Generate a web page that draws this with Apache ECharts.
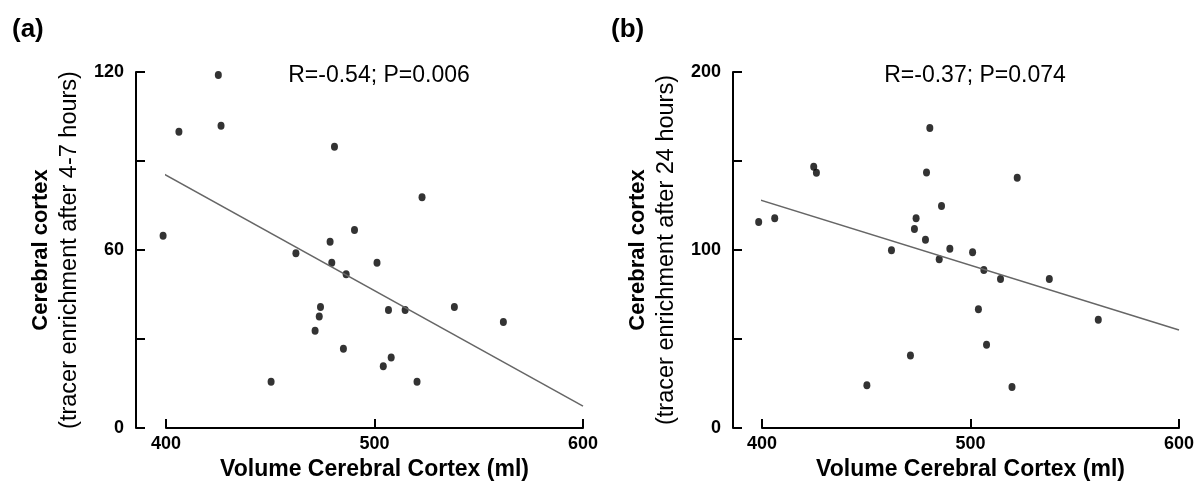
<!DOCTYPE html>
<html>
<head>
<meta charset="utf-8">
<script src="https://cdn.jsdelivr.net/npm/echarts@6/dist/echarts.min.js"></script>
<style>
  html, body { margin: 0; padding: 0; background: #fff; }
  #main { width: 1202px; height: 482px; }
</style>
</head>
<body>
<div id="main"></div>
<script>
// panel (a): 4-7 hours
const volA = [425.1, 406.2, 426.4, 480.8, 398.6, 490.4, 478.7, 462.3, 479.5, 501.2, 486.4, 506.7,
              514.7, 538.3, 561.8, 485.1, 508.0, 504.2, 520.4, 450.4, 474.1, 473.5, 471.5, 522.8];
const enrA = [119.0, 99.9, 101.9, 94.8, 64.8, 66.7, 62.8, 58.9, 55.7, 55.7, 51.8, 39.8,
              39.8, 40.8, 35.7, 26.7, 23.8, 20.8, 15.6, 15.6, 40.8, 37.6, 32.8, 77.8];
const fitA = [[397, 86.4], [600, 7.4]];

// panel (b): 24 hours
const volB = [480.5, 424.8, 426.1, 478.9, 522.4, 486.1, 398.4, 406.1, 473.9, 473.1, 478.4, 462.1,
              490.1, 501.0, 485.0, 506.4, 514.4, 537.8, 503.8, 561.3, 507.7, 471.2, 450.3, 519.9];
const enrB = [168.5, 146.8, 143.4, 143.6, 140.6, 124.7, 115.7, 117.8, 117.8, 111.8, 105.8, 99.8,
              100.7, 98.7, 94.8, 88.8, 83.7, 83.7, 66.7, 60.8, 46.8, 40.8, 24.0, 23.0];
const fitB = [[397.5, 128.7], [600, 55.1]];

const xTicks = [400, 500, 600];
const yMaxA = 120, yMaxB = 200;
const statA = 'R=-0.54; P=0.006';
const statB = 'R=-0.37; P=0.074';
const xName = 'Volume Cerebral Cortex (ml)';
const yTitle = 'Cerebral cortex';
const ySubA = '(tracer enrichment after 4-7 hours)';
const ySubB = '(tracer enrichment after 24 hours)';

const FONT = "'Liberation Sans', Arial, sans-serif";

function pairs(xs, ys) {
  return xs.map((x, i) => [x, ys[i]]);
}

function xAxisCfg(gi) {
  return {
    gridIndex: gi, type: 'value', min: 400, max: 600, interval: 100,
    name: xName, nameLocation: 'middle', nameGap: 22,
    nameTextStyle: { fontFamily: FONT, fontSize: 23, fontWeight: 'bold', color: '#000' },
    axisLine: { lineStyle: { color: '#000', width: 2 } },
    axisTick: { inside: true, length: 9, lineStyle: { color: '#000', width: 2 } },
    axisLabel: { fontFamily: FONT, fontSize: 18, fontWeight: 'bold', color: '#000', margin: 7,
                 formatter: v => xTicks.includes(v) ? v : '' },
    splitLine: { show: false }
  };
}

function yAxisCfg(gi, max, sub, off) {
  return {
    gridIndex: gi, type: 'value', min: 0, max: max, interval: max / 4, offset: off,
    name: '{t|' + yTitle + '}\n{s|' + sub + '}',
    nameLocation: 'middle', nameRotate: 90, nameGap: 52,
    nameTextStyle: {
      rich: {
        t: { fontFamily: FONT, fontSize: 22, fontWeight: 'bold', color: '#000', lineHeight: 29 },
        s: { fontFamily: FONT, fontSize: 23.5, color: '#000', lineHeight: 29 }
      }
    },
    axisLine: { show: true, lineStyle: { color: '#000', width: 2 } },
    axisTick: { show: true, inside: true, length: 9, lineStyle: { color: '#000', width: 2 } },
    axisLabel: { fontFamily: FONT, fontSize: 18, fontWeight: 'bold', color: '#000', margin: 12,
                 formatter: v => (v % (max / 2) === 0 ? v : '') },
    splitLine: { show: false }
  };
}

const chart = echarts.init(document.getElementById('main'));
chart.setOption({
  animation: false,
  backgroundColor: '#fff',
  title: [
    { text: '(a)', left: 7, top: 12, textStyle: { fontFamily: FONT, fontSize: 26, fontWeight: 'bold', color: '#000' } },
    { text: '(b)', left: 606, top: 12, textStyle: { fontFamily: FONT, fontSize: 26, fontWeight: 'bold', color: '#000' } },
    { text: statA, left: 374, top: 59, textAlign: 'center',
      textStyle: { fontFamily: FONT, fontSize: 23, fontWeight: 'normal', color: '#000' } },
    { text: statB, left: 970, top: 59, textAlign: 'center',
      textStyle: { fontFamily: FONT, fontSize: 23, fontWeight: 'normal', color: '#000' } }
  ],
  grid: [
    { left: 166, right: 619, top: 72, bottom: 54, containLabel: false, outerBoundsMode: 'none' },
    { left: 762, right: 23, top: 72, bottom: 54, containLabel: false, outerBoundsMode: 'none' }
  ],
  xAxis: [xAxisCfg(0), xAxisCfg(1)],
  yAxis: [yAxisCfg(0, yMaxA, ySubA, 30), yAxisCfg(1, yMaxB, ySubB, 29)],
  series: [
    { type: 'line', xAxisIndex: 0, yAxisIndex: 0, data: fitA, symbol: 'none', clip: false,
      lineStyle: { color: '#666', width: 1.5 } },
    { type: 'scatter', xAxisIndex: 0, yAxisIndex: 0, data: pairs(volA, enrA), clip: false,
      symbol: 'circle', symbolSize: [7, 8], itemStyle: { color: '#000' } },
    { type: 'line', xAxisIndex: 1, yAxisIndex: 1, data: fitB, symbol: 'none', clip: false,
      lineStyle: { color: '#666', width: 1.5 } },
    { type: 'scatter', xAxisIndex: 1, yAxisIndex: 1, data: pairs(volB, enrB), clip: false,
      symbol: 'circle', symbolSize: [7, 8], itemStyle: { color: '#000' } }
  ]
});
</script>
</body>
</html>
